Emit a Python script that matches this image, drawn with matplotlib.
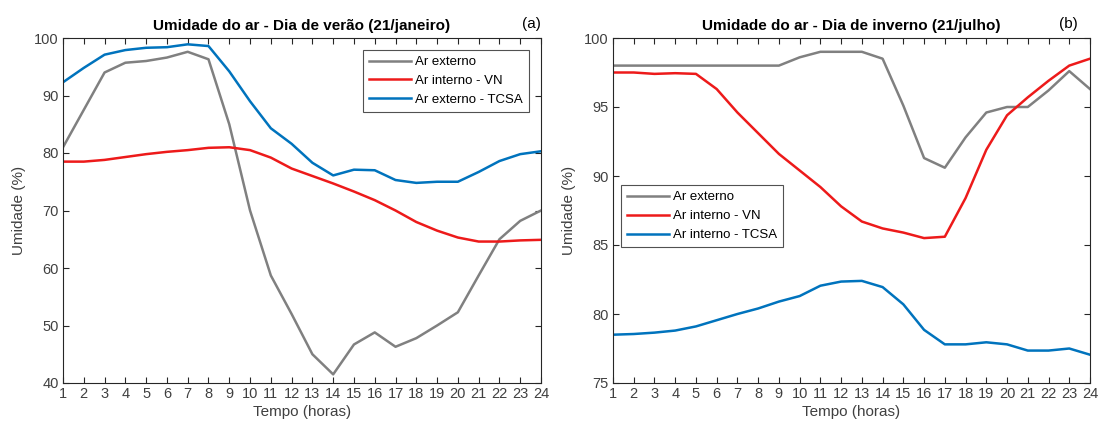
import matplotlib
matplotlib.use("Agg")
import matplotlib.pyplot as plt

hours = list(range(1, 25))

# (a) summer day
summer_ext = [81, 87.5, 94, 95.7, 96, 96.6, 97.6, 96.3, 85, 70, 58.7, 52, 45, 41.5,
              46.7, 48.8, 46.3, 47.8, 50, 52.3, 58.7, 65, 68.2, 70]
summer_vn = [78.5, 78.5, 78.8, 79.3, 79.8, 80.2, 80.5, 80.9, 81, 80.5, 79.2, 77.3,
             76, 74.7, 73.3, 71.8, 70, 68, 66.5, 65.3, 64.6, 64.6, 64.8, 64.9]
summer_tcsa = [92.3, 94.8, 97.1, 97.9, 98.3, 98.4, 98.9, 98.6, 94.2, 89, 84.3, 81.6,
               78.3, 76.1, 77.1, 77, 75.3, 74.8, 75, 75, 76.7, 78.6, 79.8, 80.3]

# (b) winter day
winter_ext = [98, 98, 98, 98, 98, 98, 98, 98, 98, 98.6, 99, 99, 99, 98.5,
              95.1, 91.3, 90.6, 92.8, 94.6, 95, 95, 96.2, 97.6, 96.3]
winter_vn = [97.5, 97.5, 97.4, 97.45, 97.4, 96.3, 94.6, 93.1, 91.6, 90.4, 89.2, 87.8,
             86.7, 86.2, 85.9, 85.5, 85.6, 88.4, 91.9, 94.4, 95.7, 96.9, 98, 98.5]
winter_tcsa = [78.5, 78.55, 78.65, 78.8, 79.1, 79.55, 80, 80.4, 80.9, 81.3, 82.05, 82.35,
               82.4, 81.95, 80.7, 78.85, 77.8, 77.8, 77.95, 77.8, 77.35, 77.35, 77.5, 77.05]

labels_a = ["Ar externo", "Ar interno - VN", "Ar externo - TCSA"]
labels_b = ["Ar externo", "Ar interno - VN", "Ar interno - TCSA"]
titles = ["Umidade do ar - Dia de verão (21/janeiro)", "Umidade do ar - Dia de inverno (21/julho)"]
panel_tags = ["(a)", "(b)"]

plt.rcParams['font.family'] = ['Liberation Sans', 'DejaVu Sans']

c_gray = (0.5, 0.5, 0.5)
c_red = (0.93, 0.1, 0.1)
c_blue = (0.0, 0.45, 0.74)
c_axis = (0.15, 0.15, 0.15)
c_text = (0.25, 0.25, 0.25)

fig = plt.figure(figsize=(10.99, 4.30), dpi=100)
ax1 = fig.add_axes([63 / 1099, 1 - 383 / 430, (541 - 63) / 1099, (383 - 38) / 430])
ax2 = fig.add_axes([613 / 1099, 1 - 383 / 430, (1090 - 613) / 1099, (383 - 38) / 430])

def style(ax, ylim, yticks):
    ax.set_xlim(1, 24)
    ax.set_ylim(*ylim)
    ax.set_xticks(hours)
    ax.set_yticks(yticks)
    ax.tick_params(direction='in', top=True, right=True, length=4, width=0.8,
                   colors=c_axis, labelcolor=c_text, labelsize=10.5, pad=3)
    for sp in ax.spines.values():
        sp.set_color(c_axis)
        sp.set_linewidth(0.8)
    ax.set_xlabel("Tempo (horas)", fontsize=11, color=c_text, labelpad=3)
    ax.set_ylabel("Umidade (%)", fontsize=11, color=c_text, labelpad=6)

lw = 1.8
leg_kw = dict(fontsize=9.5, frameon=True, fancybox=False, edgecolor=c_axis,
              handlelength=3.2, handletextpad=0.3, borderpad=0.45,
              labelspacing=0.5, borderaxespad=0)

ax1.plot(hours, summer_ext, color=c_gray, lw=lw, label=labels_a[0])
ax1.plot(hours, summer_vn, color=c_red, lw=lw, label=labels_a[1])
ax1.plot(hours, summer_tcsa, color=c_blue, lw=lw, label=labels_a[2])
style(ax1, (40, 100), [40, 50, 60, 70, 80, 90, 100])
ax1.set_title(titles[0], fontsize=11, fontweight='bold', pad=6)
ax1.text(1.0, 1.02, panel_tags[0], transform=ax1.transAxes, ha='right', va='bottom', fontsize=11)
leg1 = ax1.legend(loc='upper right', bbox_to_anchor=(0.975, 0.965), **leg_kw)
leg1.get_frame().set_linewidth(0.8)

ax2.plot(hours, winter_ext, color=c_gray, lw=lw, label=labels_b[0])
ax2.plot(hours, winter_vn, color=c_red, lw=lw, label=labels_b[1])
ax2.plot(hours, winter_tcsa, color=c_blue, lw=lw, label=labels_b[2])
style(ax2, (75, 100), [75, 80, 85, 90, 95, 100])
ax2.set_title(titles[1], fontsize=11, fontweight='bold', pad=6)
ax2.text(0.975, 1.02, panel_tags[1], transform=ax2.transAxes, ha='right', va='bottom', fontsize=11)
leg2 = ax2.legend(loc='upper left', bbox_to_anchor=(0.017, 0.573), **leg_kw)
leg2.get_frame().set_linewidth(0.8)

fig.savefig("out.png", dpi=100)
